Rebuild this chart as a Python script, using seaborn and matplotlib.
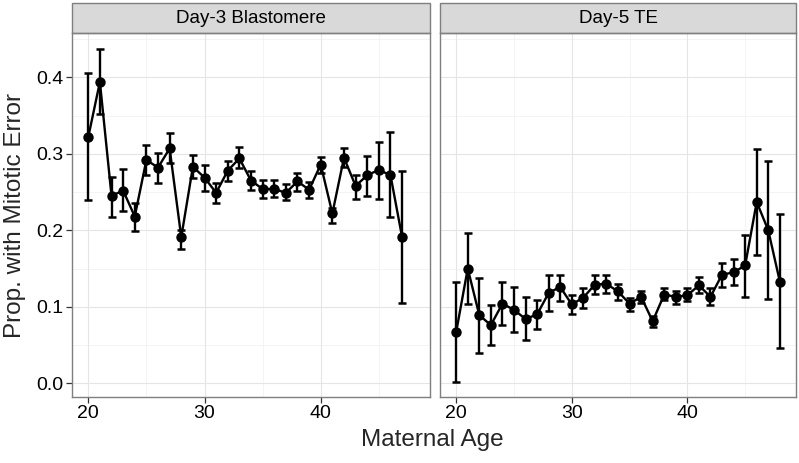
import numpy as np
import pandas as pd
import matplotlib
matplotlib.use("Agg")
import matplotlib.pyplot as plt
from matplotlib.patches import Rectangle
import seaborn as sns

# data
day3_age = list(range(20, 48))
day3_prop = [0.322, 0.394, 0.245, 0.252, 0.218, 0.292, 0.282, 0.307, 0.191, 0.283,
             0.269, 0.249, 0.278, 0.294, 0.265, 0.254, 0.254, 0.249, 0.264, 0.253,
             0.286, 0.222, 0.295, 0.258, 0.272, 0.279, 0.272, 0.191]
day3_lo = [0.239, 0.352, 0.218, 0.225, 0.199, 0.272, 0.262, 0.288, 0.175, 0.268,
           0.252, 0.236, 0.264, 0.281, 0.253, 0.242, 0.243, 0.239, 0.252, 0.242,
           0.275, 0.210, 0.283, 0.241, 0.245, 0.241, 0.218, 0.105]
day3_hi = [0.406, 0.437, 0.270, 0.280, 0.236, 0.312, 0.301, 0.327, 0.201, 0.299,
           0.285, 0.262, 0.291, 0.309, 0.277, 0.266, 0.266, 0.260, 0.275, 0.263,
           0.296, 0.229, 0.308, 0.272, 0.297, 0.315, 0.328, 0.277]

day5_age = list(range(20, 49))
day5_prop = [0.067, 0.150, 0.089, 0.076, 0.104, 0.096, 0.084, 0.090, 0.118, 0.126,
             0.103, 0.112, 0.129, 0.130, 0.120, 0.104, 0.113, 0.081, 0.116, 0.113,
             0.115, 0.128, 0.113, 0.142, 0.145, 0.154, 0.237, 0.200, 0.133]
day5_lo = [0.002, 0.104, 0.040, 0.050, 0.076, 0.067, 0.057, 0.071, 0.094, 0.108,
           0.090, 0.098, 0.117, 0.118, 0.109, 0.094, 0.105, 0.073, 0.109, 0.104,
           0.107, 0.118, 0.102, 0.126, 0.128, 0.113, 0.168, 0.110, 0.046]
day5_hi = [0.132, 0.196, 0.137, 0.102, 0.133, 0.126, 0.113, 0.109, 0.142, 0.142,
           0.116, 0.125, 0.141, 0.142, 0.130, 0.112, 0.121, 0.088, 0.125, 0.121,
           0.124, 0.139, 0.124, 0.157, 0.162, 0.194, 0.306, 0.290, 0.221]

panels = ["Day-3 Blastomere", "Day-5 TE"]

df = pd.concat([
    pd.DataFrame({"age": day3_age, "prop": day3_prop, "lo": day3_lo, "hi": day3_hi, "panel": panels[0]}),
    pd.DataFrame({"age": day5_age, "prop": day5_prop, "lo": day5_lo, "hi": day5_hi, "panel": panels[1]}),
])

sns.set_theme(style="white")
plt.rcParams['font.family'] = ['Liberation Sans', 'DejaVu Sans']

fig = plt.figure(figsize=(7.99, 4.63), dpi=100)
ax1 = fig.add_axes([72/799, 66/463, 358/799, 364/463])
ax2 = fig.add_axes([440/799, 66/463, 356/799, 364/463])

for ax, name in zip([ax1, ax2], panels):
    sub = df[df["panel"] == name]
    ax.set_facecolor("white")
    # grid, ggplot-style
    for v in [0.05, 0.15, 0.25, 0.35, 0.45]:
        ax.axhline(v, color="#F2F2F2", lw=0.6, zorder=0)
    for v in [25, 35, 45]:
        ax.axvline(v, color="#F2F2F2", lw=0.6, zorder=0)
    for v in [0.0, 0.1, 0.2, 0.3, 0.4]:
        ax.axhline(v, color="#E5E5E5", lw=0.8, zorder=0)
    for v in [20, 30, 40]:
        ax.axvline(v, color="#E5E5E5", lw=0.8, zorder=0)

    ax.errorbar(sub["age"], sub["prop"],
                yerr=[sub["prop"] - sub["lo"], sub["hi"] - sub["prop"]],
                fmt="none", ecolor="black", elinewidth=1.7, capsize=2.6, capthick=1.8, zorder=2)
    sns.lineplot(data=sub, x="age", y="prop", ax=ax, color="black", lw=1.7,
                 marker="o", markersize=7.5, markeredgewidth=0, zorder=3)

    ax.set_xlim(18.6, 49.4)
    ax.set_ylim(-0.018, 0.458)
    ax.set_xticks([20, 30, 40])
    ax.set_yticks([0.0, 0.1, 0.2, 0.3, 0.4])
    ax.set_yticklabels(["0.0", "0.1", "0.2", "0.3", "0.4"])
    ax.set_xlabel("")
    ax.set_ylabel("")
    ax.tick_params(axis="both", which="both", direction="out", length=4, width=0.9,
                   color="#333333", labelsize=14, labelcolor="black", pad=2,
                   bottom=True, left=True)
    for s in ax.spines.values():
        s.set_color("#7F7F7F")
        s.set_linewidth(1.0)

    # facet strip
    ax.add_patch(Rectangle((0, 1), 1, 30/364, transform=ax.transAxes, clip_on=False,
                           facecolor="#D9D9D9", edgecolor="#7F7F7F", lw=1.0))
    ax.text(0.5, 1 + 15/364, name, transform=ax.transAxes, ha="center", va="center",
            fontsize=13.5, color="black")

ax2.tick_params(axis="y", left=False, labelleft=False)

fig.text(432/799, 1 - 440/463, "Maternal Age", ha="center", va="center", fontsize=17.5)
fig.text(15/799, 1 - 215/463, "Prop. with Mitotic Error", ha="center", va="center",
         rotation=90, fontsize=17.5)

fig.savefig("out.png", dpi=100)
